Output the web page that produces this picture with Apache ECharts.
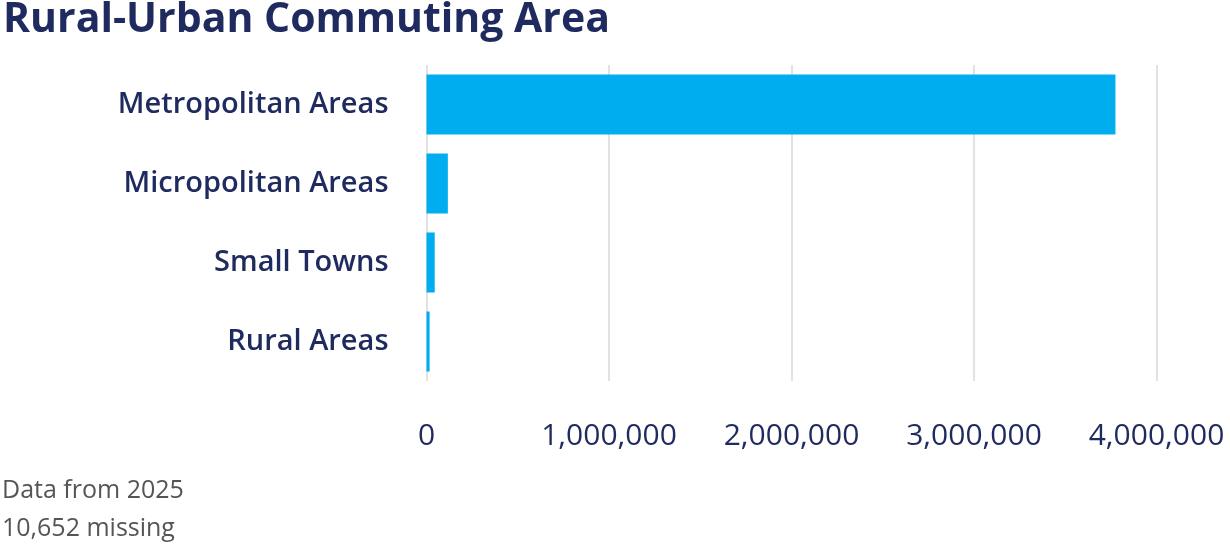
<!DOCTYPE html>
<html>
<head>
<meta charset="utf-8">
<script src="https://cdn.jsdelivr.net/npm/echarts@6/dist/echarts.min.js"></script>
<style>
  html, body { margin: 0; padding: 0; background: #fff; }
  #chart { width: 1230px; height: 546px; }
</style>
</head>
<body>
<div id="chart"></div>
<script>
const categories = ['Metropolitan Areas', 'Micropolitan Areas', 'Small Towns', 'Rural Areas'];
const values = [3775000, 117000, 45000, 17000];
const notes = ['Data from 2025', '10,652 missing'];

const navy = '#1f2a5e';
const fontFamily = '"Open Sans", "Noto Sans", sans-serif';

var chart = echarts.init(document.getElementById('chart'));
chart.setOption({
    animation: false,
    title: {
        text: 'Rural-Urban Commuting Area',
        left: -2,
        top: -5,
        textStyle: {
            color: navy,
            fontFamily: fontFamily,
            fontWeight: 'bold',
            fontSize: 41
        }
    },
    grid: {
        left: 426.5,
        right: 73.5,
        top: 65,
        bottom: 165
    },
    xAxis: {
        type: 'value',
        min: 0,
        max: 4000000,
        interval: 1000000,
        axisLine: { show: false },
        axisTick: { show: false },
        splitLine: { lineStyle: { color: '#e2e2e2', width: 2 } },
        axisLabel: {
            color: navy,
            fontFamily: fontFamily,
            fontSize: 30,
            margin: 40,
            formatter: function (v) { return v.toLocaleString('en-US'); }
        }
    },
    yAxis: {
        type: 'category',
        inverse: true,
        data: categories,
        axisLine: { show: false },
        axisTick: { show: false },
        axisLabel: {
            color: navy,
            fontFamily: fontFamily,
            fontWeight: 600,
            fontSize: 29,
            margin: 38
        }
    },
    series: [{
        type: 'bar',
        data: values,
        barCategoryGap: '24%',
        itemStyle: { color: '#00aeef' }
    }],
    graphic: notes.map(function (t, i) {
        return {
            type: 'text',
            x: 2,
            y: 491 + i * 38,
            style: {
                text: t,
                fill: '#555555',
                font: '25px ' + fontFamily,
                verticalAlign: 'middle'
            }
        };
    })
});
</script>
</body>
</html>
